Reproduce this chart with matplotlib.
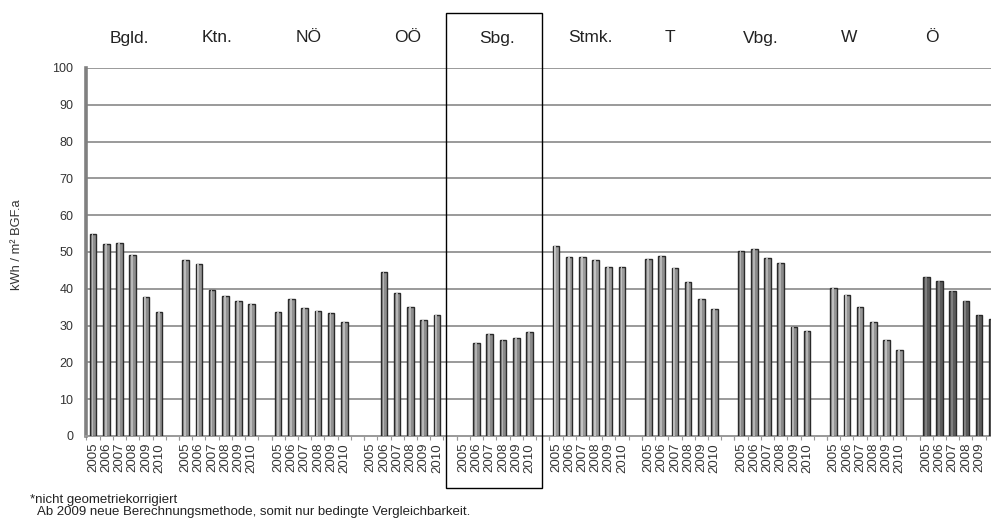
import numpy as np
from matplotlib import pyplot as plt
from matplotlib.patches import Rectangle

plt.rcParams.update({'font.size': 9,
                     'font.family': ['Liberation Sans', 'DejaVu Sans']})

regions = ['Bgld.', 'Ktn.', 'NÖ', 'OÖ', 'Sbg.', 'Stmk.', 'T', 'Vbg.', 'W', 'Ö']
years = ['2005', '2006', '2007', '2008', '2009', '2010']

bgld = [54.8, 52.2, 52.4, 49.2, 37.7, 33.6]
ktn = [47.8, 46.8, 39.7, 38.1, 36.6, 35.9]
noe = [33.6, 37.1, 34.8, 33.9, 33.5, 30.9]
ooe = [np.nan, 44.6, 38.9, 35.1, 31.4, 32.8]
sbg = [np.nan, 25.2, 27.6, 26.1, 26.6, 28.3]
stmk = [51.6, 48.7, 48.7, 47.9, 45.8, 45.8]
tirol = [48.1, 49.0, 45.7, 41.8, 37.3, 34.6]
vbg = [50.2, 50.7, 48.3, 47.0, 29.7, 28.6]
wien = [40.1, 38.2, 35.0, 30.9, 26.0, 23.5]
oest = [43.3, 42.1, 39.4, 36.8, 33.0, 31.7]
values = [bgld, ktn, noe, ooe, sbg, stmk, tirol, vbg, wien, oest]

# fill / highlight per region
fills = ['#8e8e8e', '#949494', '#929292', '#8e8e8e', '#8a8a8a',
         '#9c9c9c', '#909090', '#8a8a8a', '#969696', '#5c5c5c']
shines = ['#b8b8b8', '#bcbcbc', '#bababa', '#b6b6b6', '#b2b2b2',
          '#c2c2c2', '#b8b8b8', '#b2b2b2', '#bebebe', '#808080']

# region heading x positions (pixels)
head_x = [129, 217, 309, 408, 497, 590, 670, 761, 849, 932]

W, H = 991, 520
fig = plt.figure(figsize=(W / 100, H / 100), dpi=100)
ax = fig.add_axes([86 / W, 1 - 436 / H, 1 - 86 / W, (436 - 68) / H])

slot = 7
xs, labels = [], []
for g, vals in enumerate(values):
    x = np.arange(6) + g * slot
    ax.bar(x, vals, width=0.5, color=fills[g], edgecolor='#2a2a2a',
           linewidth=1.0, zorder=3)
    ax.bar(x - 0.04, vals, width=0.14, color=shines[g], linewidth=0,
           zorder=4)
    xs.extend(x)
    labels.extend(years)

ax.set_yticks(np.arange(0, 101, 10))
ax.set_xticks(xs)
ax.set_xticklabels(labels, rotation=90, fontsize=9.5, color='#333333')
minor = [g * slot + k - 0.5 for g in range(10) for k in range(8)]
ax.set_xticks(minor, minor=True)
ax.set_xlim(-0.53, 67.9)
ax.set_ylim(0, 100)
ax.tick_params(axis='x', which='major', length=0, pad=5)
ax.tick_params(axis='x', which='minor', length=3, color='#999999', width=0.8)
ax.tick_params(axis='y', length=0, pad=9, labelsize=9, labelcolor='#333333')

ax.grid(True, axis='y', color='#9a9a9a', linewidth=1.4, zorder=0)
ax.set_axisbelow(True)
for s in ['top', 'right']:
    ax.spines[s].set_visible(False)
ax.spines['bottom'].set_color('#9a9a9a')
ax.spines['bottom'].set_linewidth(1.4)
ax.spines['left'].set_color('#808080')
ax.spines['left'].set_linewidth(2.6)

ax.set_ylabel('kWh / m² BGF.a', fontsize=9.3, color='#333333')
ax.yaxis.set_label_coords(-63 / (W - 86), 0.52)

for name, px in zip(regions, head_x):
    fig.text(px / W, 1 - 38 / H, name, ha='center', va='center',
             fontsize=12.5, color='#222222')

# frame around Sbg.
fig.patches.append(Rectangle((446 / W, 1 - 488 / H), 96 / W, 475 / H,
                             transform=fig.transFigure, fill=False,
                             edgecolor='black', linewidth=1.0))

fig.text(30 / W, 1 - 500 / H, '*nicht geometriekorrigiert', fontsize=9.5,
         va='center', color='#222222')
fig.text(37 / W, 1 - 512 / H,
         'Ab 2009 neue Berechnungsmethode, somit nur bedingte Vergleichbarkeit.',
         fontsize=9.5, va='center', color='#222222')

plt.savefig('out.png', dpi=100)
